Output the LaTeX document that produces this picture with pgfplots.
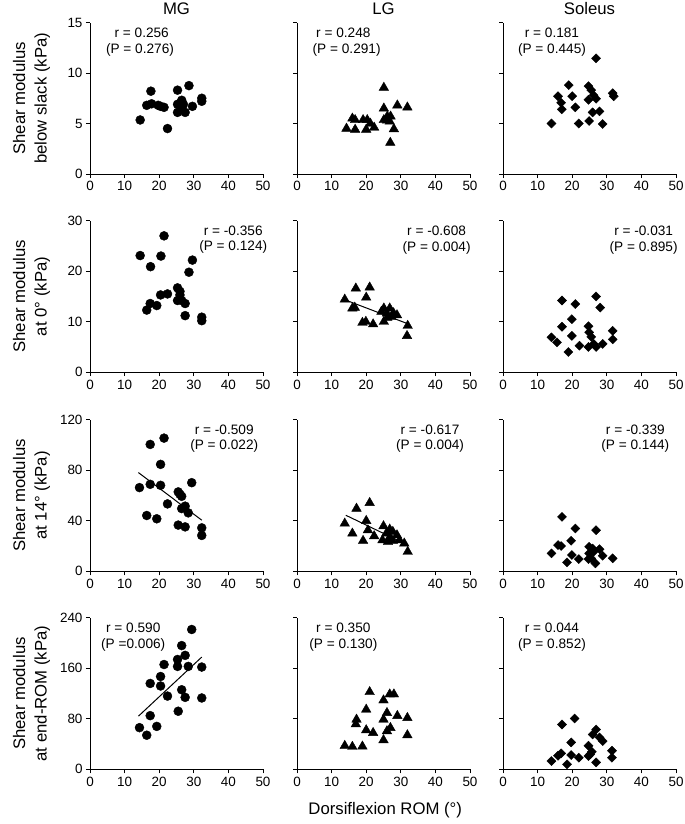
\documentclass[border=0pt]{standalone}
\usepackage{fontspec}
\setmainfont{Liberation Sans}
\usepackage{pgfplots}
\pgfplotsset{compat=1.18}
\newcommand{\tickfont}{\fontsize{13.5}{15}\selectfont}
\newcommand{\annfont}{\fontsize{13.7}{16}\selectfont}
\newcommand{\labfont}{\fontsize{16.8}{21.5}\selectfont}
\pgfplotsset{
  every axis title shift=0pt,
  panel/.style={scale only axis, width=173bp, height=151.5bp,
    xmin=0, xmax=50, xtick={0,10,20,30,40,50}, ymin=0,
    axis lines=left, axis line style={-, line width=0.8bp},
    tick align=outside, major tick length=4bp,
    tick style={line width=0.8bp, black},
    tick label style={font=\tickfont},
    /pgf/number format/assume math mode=true,
    clip=false,
    ylabel style={font=\labfont, align=center, at={(rel axis cs:-0.338,0.5)}, anchor=center},
    title style={font=\labfont, at={(rel axis cs:0.5,1.089)}, anchor=center},
  },
  circ/.style={only marks, mark=*, mark size=4.5bp, black},
  tri/.style={only marks, mark=triangle*, mark size=5.5bp, black},
  dia/.style={only marks, mark=square*, mark size=3.2bp, black, mark options={rotate=45}},
  reg/.style={no marks, black, line width=1bp},
}
\begin{document}
\begin{tikzpicture}
\useasboundingbox (0,0) rectangle (685bp,-824bp);
% ---------- Row 1 ----------
\begin{axis}[panel, at={(90bp,-174bp)}, anchor=south west, ymax=15, ytick={0,5,10,15},
  title={MG}, ylabel={Shear modulus\\below slack (kPa)}]
\addplot[circ] coordinates {(14.5,5.35) (17.6,8.2) (16.4,6.8) (17.8,6.95) (19.7,6.8) (21.4,6.6) (20.4,6.7) (22.4,4.5) (25.3,8.3) (25.3,6.9) (25.3,6.1) (26.5,7.3) (26.5,6.5) (27,6.9) (27.5,6.1) (28.6,8.75) (29.6,6.7) (32.3,7.5) (32.3,7.2) (26,7.0)};
\node[font=\annfont] at (rel axis cs:0.299,0.933) {r = 0.256};
\node[font=\annfont] at (rel axis cs:0.289,0.818) {(P = 0.276)};
\end{axis}
\begin{axis}[panel, at={(297bp,-174bp)}, anchor=south west, ymax=15, ytick={0,5,10,15}, yticklabels={},
  title={LG}]
\addplot[tri] coordinates {(14.3,4.5) (16.0,5.5) (16.8,5.35) (16.8,4.4) (19.1,5.35) (20.3,5.35) (20.0,4.4) (21.2,5.0) (22.3,4.6) (25.1,8.55) (25.1,6.5) (25.1,5.35) (26.1,5.7) (27.05,5.7) (26.8,5.2) (28.0,4.45) (26.96,3.1) (29.0,6.8) (31.9,6.6) (26,5.3)};
\node[font=\annfont] at (rel axis cs:0.268,0.933) {r = 0.248};
\node[font=\annfont] at (rel axis cs:0.287,0.818) {(P = 0.291)};
\end{axis}
\begin{axis}[panel, at={(503bp,-174bp)}, anchor=south west, ymax=15, ytick={0,5,10,15}, yticklabels={},
  title={Soleus}]
\addplot[dia] coordinates {(14.0,5.0) (15.9,7.7) (16.8,7.05) (17.0,6.4) (19.0,8.8) (20.0,7.7) (20.9,6.6) (21.9,5.0) (24.7,8.7) (25.5,8.3) (24.7,7.35) (26.2,7.8) (26.9,7.45) (24.9,5.25) (25.9,6.1) (27.9,6.2) (28.8,4.95) (26.9,11.45) (31.7,8.0) (32.0,7.7)};
\node[font=\annfont] at (rel axis cs:0.283,0.933) {r = 0.181};
\node[font=\annfont] at (rel axis cs:0.283,0.818) {(P = 0.445)};
\end{axis}
% ---------- Row 2 ----------
\begin{axis}[panel, at={(90bp,-372.2bp)}, anchor=south west, ymax=30, ytick={0,10,20,30},
  ylabel={Shear modulus\\at 0° (kPa)}]
\addplot[circ] coordinates {(21.4,27.0) (14.5,23.1) (20.5,23.0) (17.5,20.9) (29.6,22.2) (28.6,19.8) (25.3,16.7) (26.0,15.3) (20.4,15.3) (22.4,15.5) (25.3,14.2) (27.5,13.6) (17.4,13.6) (19.3,13.2) (16.4,12.3) (27.5,11.2) (32.3,10.9) (32.3,10.2) (26.5,14.2) (26,16.0)};
\node[font=\annfont] at (rel axis cs:0.828,0.934) {r = -0.356};
\node[font=\annfont] at (rel axis cs:0.828,0.824) {(P = 0.124)};
\end{axis}
\begin{axis}[panel, at={(297bp,-372.2bp)}, anchor=south west, ymax=30, ytick={0,10,20,30}, yticklabels={}]
\addplot[tri] coordinates {(13.8,14.4) (17.0,16.6) (21.0,16.8) (20.0,14.8) (16.0,12.65) (16.7,12.8) (18.9,9.8) (19.9,10.0) (22.0,9.5) (25.1,12.65) (26.8,12.65) (26.0,11.65) (25.1,10.0) (27.3,11.0) (28.9,11.3) (27.9,11.7) (26.1,10.8) (32.0,9.2) (31.8,7.2) (24.4,12.0)};
\addplot[reg] coordinates {(14.0,14.3) (32.0,9.6)};
\node[font=\annfont] at (rel axis cs:0.807,0.934) {r = -0.608};
\node[font=\annfont] at (rel axis cs:0.807,0.820) {(P = 0.004)};
\end{axis}
\begin{axis}[panel, at={(503bp,-372.2bp)}, anchor=south west, ymax=30, ytick={0,10,20,30}, yticklabels={}]
\addplot[dia] coordinates {(17.05,14.2) (20.9,13.5) (26.9,15.0) (28.1,12.8) (19.9,10.5) (17.05,9.0) (24.7,9.1) (31.7,8.2) (31.7,6.5) (14.0,6.9) (15.6,5.9) (19.9,7.2) (22.1,5.25) (24.9,7.9) (25.5,7.0) (26.2,5.6) (28.8,5.6) (26.9,5.0) (24.7,5.0) (18.9,4.0)};
\node[font=\annfont] at (rel axis cs:0.813,0.934) {r = -0.031};
\node[font=\annfont] at (rel axis cs:0.813,0.820) {(P = 0.895)};
\end{axis}
% ---------- Row 3 ----------
\begin{axis}[panel, at={(90bp,-571.3bp)}, anchor=south west, ymax=120, ytick={0,40,80,120},
  ylabel={Shear modulus\\at 14° (kPa)}]
\addplot[circ] coordinates {(21.4,105.5) (17.4,100.5) (20.4,84.7) (17.4,68.9) (14.3,66.3) (20.4,68.1) (29.4,70.2) (25.5,62.9) (26.5,59.4) (22.4,53.4) (27.5,51.6) (26.5,49.7) (28.4,46.3) (16.4,44.2) (19.3,41.6) (25.5,36.6) (27.5,35.2) (32.3,34.4) (32.3,28.4) (26,61)};
\addplot[reg] coordinates {(14.0,78.2) (32.3,40.5)};
\node[font=\annfont] at (rel axis cs:0.776,0.937) {r = -0.509};
\node[font=\annfont] at (rel axis cs:0.776,0.827) {(P = 0.022)};
\end{axis}
\begin{axis}[panel, at={(297bp,-571.3bp)}, anchor=south west, ymax=120, ytick={0,40,80,120}, yticklabels={}]
\addplot[tri] coordinates {(21.0,54.2) (17.2,49.7) (13.8,37.9) (20.0,40.0) (16.0,30.0) (19.1,24.2) (20.5,32.6) (22.3,27.9) (25.0,35.8) (26.8,33.2) (27.7,31.3) (28.9,28.6) (25.8,30.0) (24.7,24.7) (26.3,23.4) (27.7,24.2) (29.6,24.7) (31.0,22.1) (32.0,15.5) (26.8,27.1)};
\addplot[reg] coordinates {(14.1,44.4) (32.0,20.8)};
\node[font=\annfont] at (rel axis cs:0.769,0.937) {r = -0.617};
\node[font=\annfont] at (rel axis cs:0.769,0.827) {(P = 0.004)};
\end{axis}
\begin{axis}[panel, at={(503bp,-571.3bp)}, anchor=south west, ymax=120, ytick={0,40,80,120}, yticklabels={}]
\addplot[dia] coordinates {(17.05,43.1) (20.9,33.9) (26.9,32.6) (19.7,24.2) (15.9,20.8) (16.8,20.0) (14.0,14.2) (19.9,12.9) (18.5,7.1) (21.9,9.7) (24.9,19.4) (25.9,18.1) (27.9,17.5) (24.9,14.2) (25.5,10.3) (28.8,12.3) (26.7,6.3) (31.7,10.3) (24.7,9.7) (26.2,15.5)};
\node[font=\annfont] at (rel axis cs:0.765,0.937) {r = -0.339};
\node[font=\annfont] at (rel axis cs:0.765,0.827) {(P = 0.144)};
\end{axis}
% ---------- Row 4 ----------
\begin{axis}[panel, at={(90bp,-769.3bp)}, anchor=south west, ymax=240, ytick={0,80,160,240},
  ylabel={Shear modulus\\at end-ROM (kPa)}]
\addplot[circ] coordinates {(29.4,221.5) (26.5,196) (27.5,180.5) (25.3,174) (25.3,163) (28.4,163) (32.3,162) (21.4,166) (20.4,147) (17.4,136) (20.4,132) (26.5,126) (22.4,116) (27.5,114) (32.3,113) (25.5,92) (17.4,85) (14.3,66) (19.3,68) (16.4,54)};
\addplot[reg] coordinates {(14.0,84.2) (32.3,177.8)};
\node[font=\annfont] at (rel axis cs:0.25,0.937) {r = 0.590};
\node[font=\annfont] at (rel axis cs:0.25,0.820) {(P =0.006)};
\end{axis}
\begin{axis}[panel, at={(297bp,-769.3bp)}, anchor=south west, ymax=240, ytick={0,80,160,240}, yticklabels={},
  xlabel={Dorsiflexion ROM (°)}, xlabel style={font=\labfont, at={(rel axis cs:0.51,-0.269)}, anchor=center}]
\addplot[tri] coordinates {(21.0,122.5) (26.8,118.9) (28.0,118.9) (25.0,109.4) (20.0,94.7) (26.0,89.4) (29.0,84.7) (31.9,81.5) (25.0,78.9) (17.2,78.9) (17.0,71.5) (27.0,65.7) (26.0,60.5) (20.0,62.1) (22.0,57.8) (31.9,54.2) (25.0,46.3) (13.8,37.3) (16.0,35.8) (18.9,36.3)};
\node[font=\annfont] at (rel axis cs:0.268,0.937) {r = 0.350};
\node[font=\annfont] at (rel axis cs:0.268,0.820) {(P = 0.130)};
\end{axis}
\begin{axis}[panel, at={(503bp,-769.3bp)}, anchor=south west, ymax=240, ytick={0,80,160,240}, yticklabels={}]
\addplot[dia] coordinates {(20.7,80.5) (17.05,71.0) (26.9,63.1) (25.9,55.2) (27.9,50.5) (28.8,44.7) (19.7,42.6) (24.7,37.3) (25.7,27.8) (31.5,29.4) (31.5,18.4) (16.8,25.3) (15.9,21.5) (14.0,13.1) (19.7,22.6) (21.9,18.4) (24.7,21.1) (18.5,7.9) (26.9,11.0) (25.2,23.7)};
\node[font=\annfont] at (rel axis cs:0.283,0.937) {r = 0.044};
\node[font=\annfont] at (rel axis cs:0.283,0.820) {(P = 0.852)};
\end{axis}
\end{tikzpicture}
\end{document}
